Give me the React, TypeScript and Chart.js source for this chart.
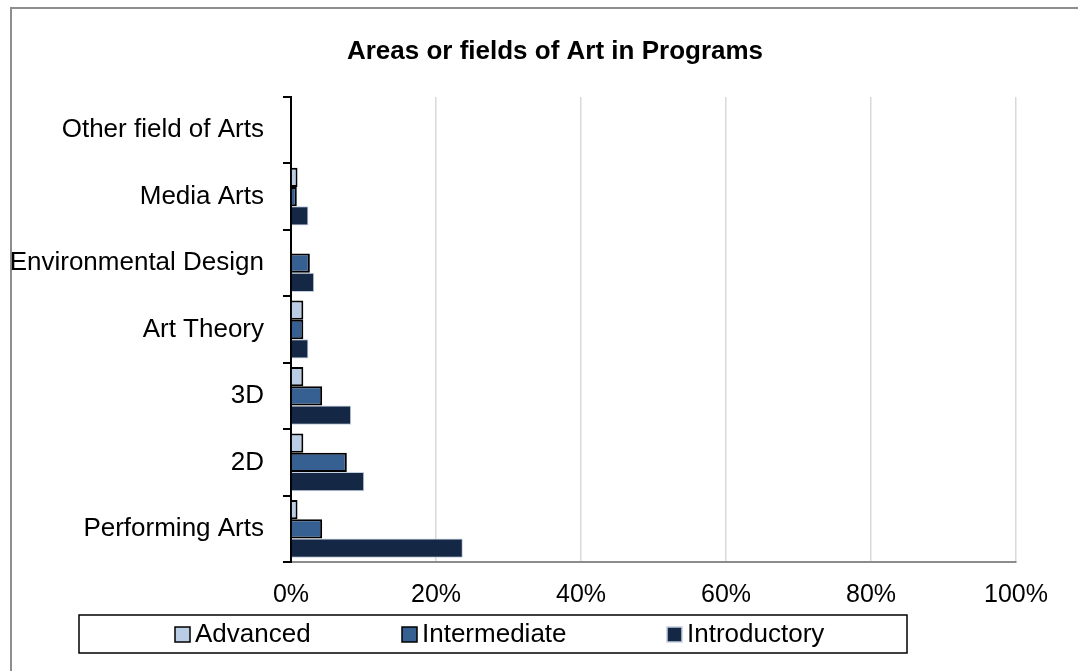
import React, { useEffect, useRef } from 'react';
import { Chart, registerables } from 'chart.js';

Chart.register(...registerables);

const titleText = 'Areas or fields of Art in Programs';
const categories = [
  'Other field of Arts',
  'Media Arts',
  'Environmental Design',
  'Art Theory',
  '3D',
  '2D',
  'Performing Arts',
];
const seriesNames = ['Advanced', 'Intermediate', 'Introductory'];
const advanced = [0, 0.9, 0, 1.7, 1.7, 1.7, 0.9];
const intermediate = [0, 0.8, 2.6, 1.7, 4.3, 7.7, 4.3];
const introductory = [0, 2.4, 3.2, 2.4, 8.3, 10.1, 23.7];
const xTickValues = [0, 20, 40, 60, 80, 100];

const FONT = "'Liberation Sans', Arial, sans-serif";
const fills = ['#B9CDE5', '#376092', '#142846'];
const borders = ['#000000', '#000000', '#C3CEDF'];
const borderWidths = [2, 2, 1];

const frameLegendPlugin = {
  id: 'frameLegend',
  beforeDraw(chart: any) {
    const ctx = chart.ctx;
    ctx.save();
    ctx.fillStyle = '#ffffff';
    ctx.fillRect(0, 0, chart.width, chart.height);
    ctx.strokeStyle = '#8E8E8E';
    ctx.lineWidth = 2;
    ctx.strokeRect(11, 8, chart.width + 20, chart.height + 20);
    ctx.restore();
  },
  afterDraw(chart: any) {
    const ctx = chart.ctx;
    ctx.save();
    // title
    ctx.fillStyle = '#000000';
    ctx.font = `bold 26px ${FONT}`;
    ctx.textAlign = 'center';
    ctx.textBaseline = 'middle';
    ctx.fillText(titleText, 555, 52);
    // legend
    ctx.strokeStyle = '#000000';
    ctx.lineWidth = 1.5;
    ctx.strokeRect(79, 615, 828, 38);
    const xs = [175, 402, 667];
    ctx.font = `26px ${FONT}`;
    ctx.textBaseline = 'middle';
    ctx.textAlign = 'left';
    chart.data.datasets.forEach((ds: any, i: number) => {
      const x = xs[i];
      ctx.fillStyle = ds.backgroundColor;
      ctx.fillRect(x, 627, 15, 15);
      ctx.strokeStyle = i === 2 ? '#C3CEDF' : '#000000';
      ctx.lineWidth = 1.5;
      ctx.strokeRect(x, 627, 15, 15);
      ctx.fillStyle = '#000000';
      ctx.fillText(ds.label, x + 20, 635);
    });
    ctx.restore();
  },
};

export default function App() {
  const ref = useRef<HTMLCanvasElement | null>(null);

  useEffect(() => {
    document.body.style.margin = '0';
    if (!ref.current) return;
    const values = [advanced, intermediate, introductory];
    const chart = new Chart(ref.current, {
      type: 'bar',
      data: {
        labels: categories,
        datasets: seriesNames.map((name, i) => ({
          label: name,
          data: values[i],
          backgroundColor: fills[i],
          borderColor: borders[i],
          borderWidth: borderWidths[i],
          categoryPercentage: 0.87,
          barPercentage: 1.0,
        })),
      },
      options: {
        indexAxis: 'y',
        responsive: false,
        animation: false,
        layout: { padding: { left: 0, right: 62, top: 97, bottom: 0 } },
        plugins: {
          legend: { display: false },
          tooltip: { enabled: false },
          title: { display: false },
        },
        scales: {
          x: {
            type: 'linear',
            position: 'bottom',
            min: 0,
            max: 100,
            afterBuildTicks: (scale: any) => {
              scale.ticks = xTickValues.map((v) => ({ value: v }));
            },
            afterFit: (scale: any) => {
              scale.height = 109;
            },
            ticks: {
              color: '#000000',
              font: { family: FONT, size: 25 },
              padding: 18,
              callback: (v: any) => `${v}%`,
            },
            grid: { color: '#D9D9D9', lineWidth: 1.5, drawTicks: false },
            border: { color: '#8C8C8C', width: 2 },
          },
          y: {
            type: 'category',
            z: 1,
            afterFit: (scale: any) => {
              scale.width = 291;
            },
            ticks: {
              color: '#000000',
              font: { family: FONT, size: 26 },
              padding: 19,
            },
            grid: {
              drawOnChartArea: false,
              drawTicks: true,
              tickLength: 8,
              color: '#000000',
              lineWidth: 2,
              offset: true,
            },
            border: { color: '#000000', width: 2 },
          },
        },
      },
      plugins: [frameLegendPlugin],
    } as any);
    return () => chart.destroy();
  }, []);

  return (
    <div style={{ position: 'fixed', left: 0, top: 0, width: 1078, height: 671 }}>
      <canvas ref={ref} width={1078} height={671} style={{ width: 1078, height: 671 }} />
    </div>
  );
}
